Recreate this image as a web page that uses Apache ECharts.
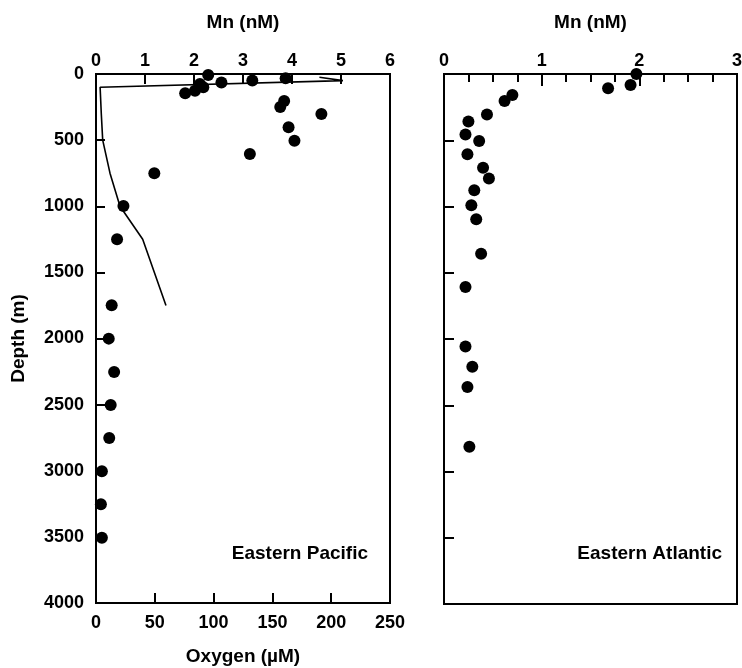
<!DOCTYPE html>
<html>
<head>
<meta charset="utf-8">
<script src="https://cdn.jsdelivr.net/npm/echarts@6/dist/echarts.min.js"></script>
<style>
html,body{margin:0;padding:0;background:#fff;}
#c{width:742px;height:668px;}
</style>
</head>
<body>
<div id="c"></div>
<script>
// Eastern Pacific Mn profile
var pacificMn    = [2.29, 2.56, 3.19, 3.87, 2.12, 2.19, 2.02, 1.82, 3.84, 3.76, 4.60, 3.93, 4.05, 3.14, 1.19, 0.56, 0.43, 0.32, 0.26, 0.37, 0.30, 0.27, 0.12, 0.10, 0.12];
var pacificDepth = [8, 65, 50, 33, 76, 100, 126, 146, 204, 250, 302, 403, 504, 605, 751, 998, 1250, 1749, 2001, 2253, 2503, 2752, 3004, 3254, 3506];
// Eastern Pacific oxygen profile
var oxygenValues = [190, 210, 3.5, 4.5, 5.7, 11.9, 20.4, 39.7, 59.5];
var oxygenDepth  = [25, 50, 100, 300, 500, 750, 1000, 1250, 1750];
// Eastern Atlantic Mn profile
var atlanticMn    = [1.97, 1.91, 1.68, 0.70, 0.62, 0.44, 0.25, 0.22, 0.36, 0.24, 0.40, 0.46, 0.31, 0.28, 0.33, 0.38, 0.22, 0.22, 0.29, 0.24, 0.26];
var atlanticDepth = [0, 83, 108, 159, 204, 305, 358, 456, 506, 605, 708, 789, 877, 991, 1096, 1356, 1608, 2057, 2210, 2362, 2813];

function zip(a, b) { return a.map(function (v, i) { return [v, b[i]]; }); }
function plain(v) { return String(v); }

var FONT = '"Liberation Sans", Arial, Helvetica, sans-serif';
var lbl = { color: '#000', fontFamily: FONT, fontWeight: 'bold', fontSize: 18, formatter: plain };
var nameStyle = { color: '#000', fontFamily: FONT, fontWeight: 'bold', fontSize: 19 };
var axLine = { show: true, lineStyle: { color: '#000', width: 2 } };

var chart = echarts.init(document.getElementById('c'), null, { renderer: 'canvas' });
chart.setOption({
  animation: false,
  backgroundColor: '#fff',
  grid: [
    { left: 96, top: 74, width: 294, height: 529, show: true, borderColor: '#000', borderWidth: 2, backgroundColor: 'transparent', containLabel: false, outerBoundsMode: 'none' },
    { left: 444, top: 74, width: 293, height: 530, show: true, borderColor: '#000', borderWidth: 2, backgroundColor: 'transparent', containLabel: false, outerBoundsMode: 'none' }
  ],
  xAxis: [
    { type: 'value', gridIndex: 0, position: 'top', min: 0, max: 6, interval: 1,
      name: 'Mn (nM)', nameLocation: 'middle', nameGap: 42, nameTextStyle: nameStyle,
      axisLine: axLine, axisTick: { inside: true, length: 10, lineStyle: { color: '#000', width: 2 } },
      axisLabel: Object.assign({ margin: 4 }, lbl), splitLine: { show: false } },
    { type: 'value', gridIndex: 0, position: 'bottom', min: 0, max: 250, interval: 50,
      name: 'Oxygen (\u00b5M)', nameLocation: 'middle', nameGap: 44, nameTextStyle: nameStyle,
      axisLine: axLine, axisTick: { inside: true, length: 10, lineStyle: { color: '#000', width: 2 } },
      axisLabel: Object.assign({ margin: 11 }, lbl), splitLine: { show: false } },
    { type: 'value', gridIndex: 1, position: 'top', min: 0, max: 3, interval: 1,
      name: 'Mn (nM)', nameLocation: 'middle', nameGap: 42, nameTextStyle: nameStyle,
      axisLine: axLine, axisTick: { inside: true, length: 12, lineStyle: { color: '#000', width: 2 } },
      minorTick: { show: true, splitNumber: 4, length: 8, lineStyle: { color: '#000', width: 2 } },
      axisLabel: Object.assign({ margin: 4 }, lbl), splitLine: { show: false }, minorSplitLine: { show: false } }
  ],
  yAxis: [
    { type: 'value', gridIndex: 0, inverse: true, min: 0, max: 4000, interval: 500,
      name: 'Depth (m)', nameLocation: 'middle', nameGap: 68, nameTextStyle: nameStyle,
      axisLine: axLine, axisTick: { inside: true, length: 9, lineStyle: { color: '#000', width: 2 } },
      axisLabel: Object.assign({ margin: 12 }, lbl), splitLine: { show: false } },
    { type: 'value', gridIndex: 1, inverse: true, min: 0, max: 4000, interval: 500,
      axisLine: axLine, axisTick: { inside: true, length: 10, lineStyle: { color: '#000', width: 2 } },
      axisLabel: { show: false }, splitLine: { show: false } }
  ],
  series: [
    { type: 'line', xAxisIndex: 1, yAxisIndex: 0, data: zip(oxygenValues, oxygenDepth),
      showSymbol: false, symbol: 'none', lineStyle: { color: '#000', width: 1.6 }, silent: true, clip: false },
    { type: 'scatter', xAxisIndex: 0, yAxisIndex: 0, data: zip(pacificMn, pacificDepth),
      symbol: 'circle', symbolSize: 12, itemStyle: { color: '#000', opacity: 1 }, clip: false },
    { type: 'scatter', xAxisIndex: 2, yAxisIndex: 1, data: zip(atlanticMn, atlanticDepth),
      symbol: 'circle', symbolSize: 12, itemStyle: { color: '#000', opacity: 1 }, clip: false }
  ],
  graphic: [
    { type: 'text', right: 742 - 368, top: 544, style: { text: 'Eastern Pacific', fill: '#000', font: 'bold 19px ' + FONT } },
    { type: 'text', right: 742 - 722, top: 544, style: { text: 'Eastern Atlantic', fill: '#000', font: 'bold 19px ' + FONT } }
  ]
});
</script>
</body>
</html>
